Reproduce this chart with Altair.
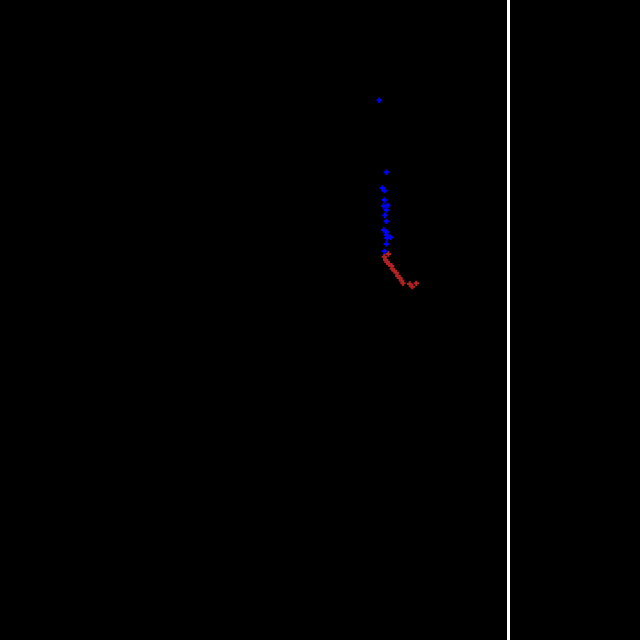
import altair as alt
import pandas as pd

blue_x = [379.3, 386.3, 382.3, 384.3, 384.3, 387.7, 383.7, 386.3, 385.0, 386.3, 383.7, 386.3, 386.3, 390.3, 387.0, 386.3, 384.3]
blue_y = [100.3, 172.3, 188.0, 190.7, 200.0, 205.3, 206.0, 210.0, 215.3, 221.3, 230.0, 232.0, 234.7, 237.3, 238.0, 244.0, 251.3]
red_x = [388.3, 384.3, 385.7, 387.0, 389.0, 391.7, 392.3, 394.3, 396.3, 397.7, 399.7, 401.7, 403.0, 409.7, 412.3, 416.3]
red_y = [254.0, 256.7, 260.0, 262.0, 264.0, 266.0, 268.7, 270.7, 272.7, 276.0, 278.0, 280.7, 283.3, 284.0, 286.7, 283.3]
line_x = [508.5]

df = pd.DataFrame({
    "x": blue_x + red_x,
    "y": blue_y + red_y,
    "group": ["blue"] * len(blue_x) + ["red"] * len(red_x),
})
rule_df = pd.DataFrame({"x": line_x})

xs = alt.Scale(domain=[0, 640], nice=False, zero=False)
ys = alt.Scale(domain=[640, 0], nice=False, zero=False)

pts = alt.Chart(df).mark_point(shape="cross", filled=True, size=28, opacity=1).encode(
    x=alt.X("x:Q", scale=xs, axis=None),
    y=alt.Y("y:Q", scale=ys, axis=None),
    color=alt.Color("group:N", scale=alt.Scale(domain=["blue", "red"], range=["#0000ff", "#b22222"]), legend=None),
)

rule = alt.Chart(rule_df).mark_rule(color="white", strokeWidth=3).encode(
    x=alt.X("x:Q", scale=xs, axis=None)
)

chart = alt.layer(rule, pts).properties(
    width=640, height=640, background="black", padding=0,
    autosize=alt.AutoSizeParams(type="none"),
).configure_view(stroke=None, fill="black")

chart.save("out.html", embed_options={"renderer": "svg", "actions": False})
